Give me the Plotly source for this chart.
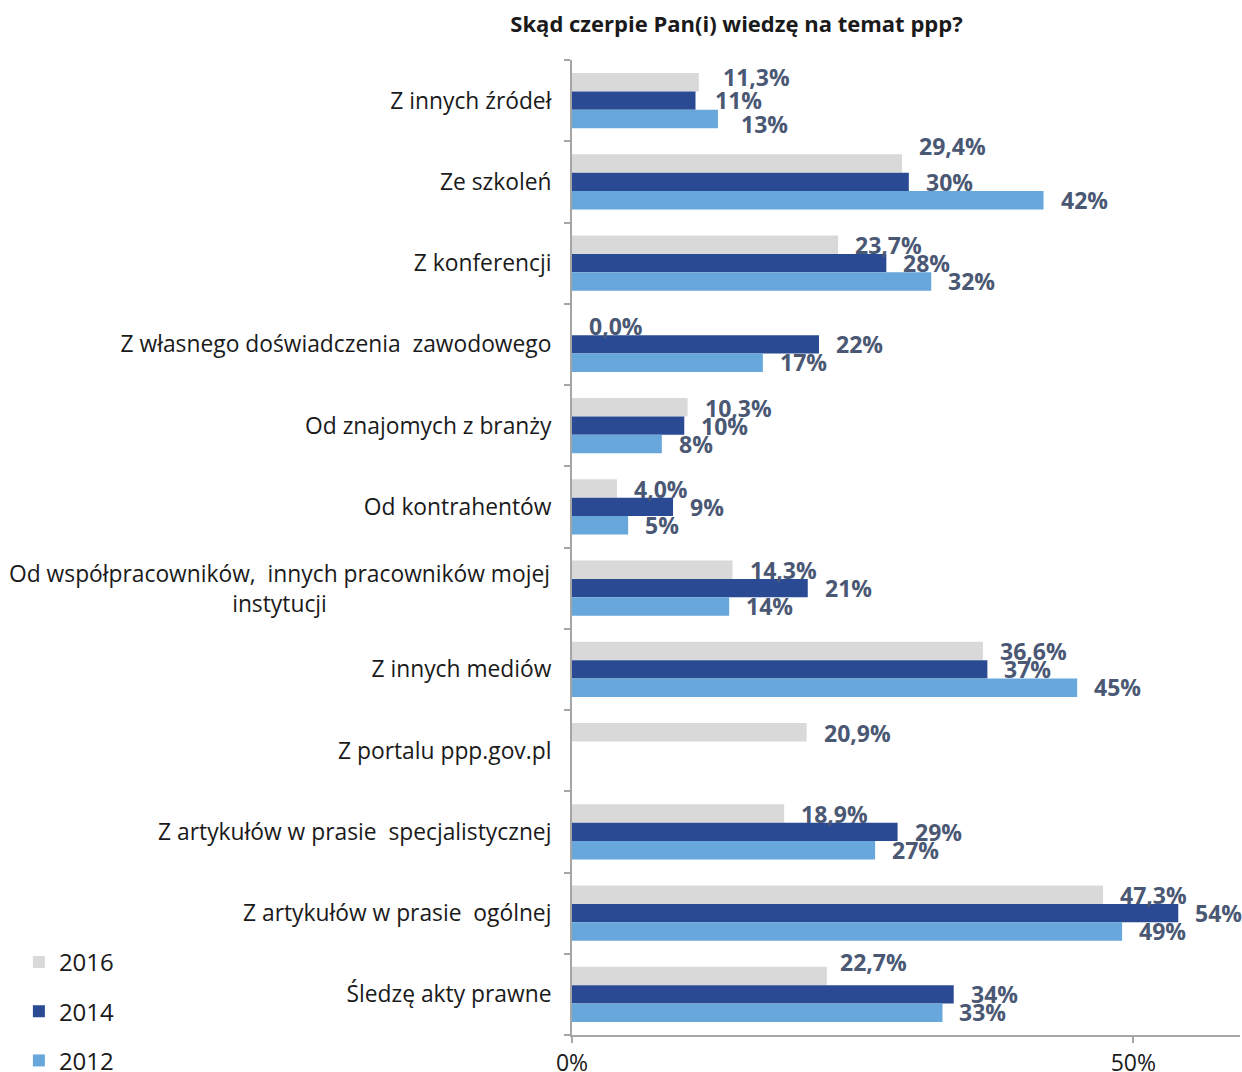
import plotly.graph_objects as go

# Survey answers: "Skąd czerpie Pan(i) wiedzę na temat ppp?" (% of respondents)
categories = [
    "Z innych źródeł",
    "Ze szkoleń",
    "Z konferencji",
    "Z własnego doświadczenia  zawodowego",
    "Od znajomych z branży",
    "Od kontrahentów",
    "Od współpracowników,  innych pracowników mojej<br>instytucji",
    "Z innych mediów",
    "Z portalu ppp.gov.pl",
    "Z artykułów w prasie  specjalistycznej",
    "Z artykułów w prasie  ogólnej",
    "Śledzę akty prawne",
]
years = ["2016", "2014", "2012"]
values_2016 = [11.3, 29.4, 23.7, 0.0, 10.3, 4.0, 14.3, 36.6, 20.9, 18.9, 47.3, 22.7]
values_2014 = [11, 30, 28, 22, 10, 9, 21, 37, None, 29, 54, 34]
values_2012 = [13, 42, 32, 17, 8, 5, 14, 45, None, 27, 49, 33]
labels_2016 = ["11,3%", "29,4%", "23,7%", "0,0%", "10,3%", "4,0%", "14,3%",
               "36,6%", "20,9%", "18,9%", "47,3%", "22,7%"]
labels_2014 = ["11%", "30%", "28%", "22%", "10%", "9%", "21%", "37%", None,
               "29%", "54%", "34%"]
labels_2012 = ["13%", "42%", "32%", "17%", "8%", "5%", "14%", "45%", None,
               "27%", "49%", "33%"]
x_ticks = [0, 50]
x_tick_labels = ["0%", "50%"]

colors = {"2016": "#d9d9d9", "2014": "#2a4a94", "2012": "#67a7dc"}
label_color = "#4a5874"
text_color = "#1a1a1a"
font_family = "Open Sans, Lato, sans-serif"

# base vertical offset (px) of each series' value label, level with its bar
series = [
    ("2016", values_2016, labels_2016, 18),
    ("2014", values_2014, labels_2014, 0),
    ("2012", values_2012, labels_2012, -18),
]
# a few labels are moved slightly so they don't collide: (category, year) -> (dx, dy)
label_nudges = {
    (0, "2016"): (7, 6),
    (0, "2014"): (2, 1),
    (0, "2012"): (6, -5),
    (1, "2016"): (0, 18),
    (11, "2016"): (-4, 14),
}

# category keys are the plain text; the wrapped label is drawn separately
cat_keys = [c.replace("<br>", " ") for c in categories]
wrapped = [c for c in categories if "<br>" in c]

fig = go.Figure()
for name, vals, _, _ in series:
    fig.add_trace(go.Bar(
        y=cat_keys, x=vals, name=name, orientation="h",
        marker=dict(color=colors[name], line=dict(width=0)),
        legendgroup=name, hoverinfo="skip",
    ))

annotations = []
for name, vals, labels, dy in series:
    for i, (cat, v, lab) in enumerate(zip(cat_keys, vals, labels)):
        if v is None or lab is None:
            continue
        nx, ny = label_nudges.get((i, name), (0, 0))
        annotations.append(dict(
            x=v, y=cat, xref="x", yref="y", text=lab, showarrow=False,
            xanchor="left", yanchor="middle", xshift=15 + nx, yshift=dy + ny,
            font=dict(family=font_family, size=23, color=label_color, weight="bold"),
        ))

tick_text = ["" if "<br>" in c else c for c in categories]
for c in wrapped:
    annotations.append(dict(
        x=0, y=c.replace("<br>", " "), xref="paper", yref="y", text=c,
        showarrow=False, xanchor="right", yanchor="middle", xshift=-20,
        align="center", font=dict(family=font_family, size=22.8, color=text_color),
    ))

fig.update_layout(
    width=1242, height=1072,
    margin=dict(l=572, r=2, t=60, b=37, autoexpand=False),
    paper_bgcolor="white", plot_bgcolor="white",
    barmode="group", bargap=0.32, bargroupgap=0,
    title=dict(
        text="Skąd czerpie Pan(i) wiedzę na temat ppp?",
        x=0.593, xanchor="center", y=0.977, yanchor="middle",
        font=dict(family=font_family, size=22, color=text_color, weight="bold"),
    ),
    font=dict(family=font_family, color=text_color),
    showlegend=True,
    legend=dict(
        x=-0.828, xanchor="left", y=0.0975, yanchor="top",
        traceorder="grouped", tracegroupgap=15,
        font=dict(family=font_family, size=24, color=text_color),
        bgcolor="rgba(0,0,0,0)",
    ),
    annotations=annotations,
)
fig.update_xaxes(
    range=[0, 59.5], tickvals=x_ticks, ticktext=x_tick_labels,
    showgrid=False, zeroline=False, showline=True, linecolor="#a6a6a6",
    linewidth=2, ticks="outside", ticklen=6, tickcolor="#a6a6a6", tickwidth=2,
    tickfont=dict(family=font_family, size=23, color=text_color),
    automargin=False,
)
# fixed category range (first category at the top) so labels don't widen it
fig.update_yaxes(
    categoryorder="array", categoryarray=cat_keys,
    range=[len(cat_keys) - 0.5, -0.5], autorange=False,
    tickvals=cat_keys, ticktext=tick_text,
    showgrid=False, zeroline=False, showline=True, linecolor="#a6a6a6",
    linewidth=2, ticks="outside", ticklen=6, tickcolor="#a6a6a6", tickwidth=2,
    tickson="boundaries", ticklabelstandoff=14,
    tickfont=dict(family=font_family, size=22.8, color=text_color),
    automargin=False,
)

fig.write_html("out.html")
